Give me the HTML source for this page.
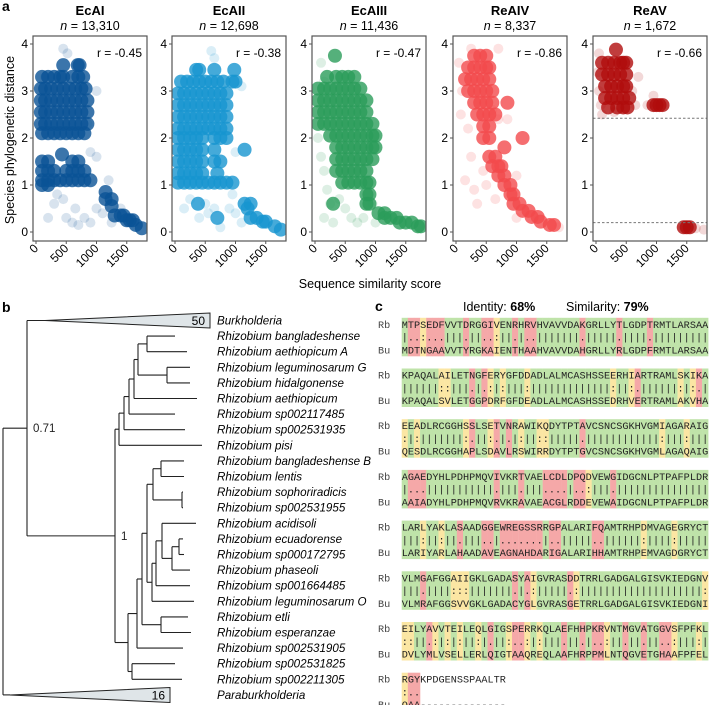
<!DOCTYPE html>
<html><head><meta charset="utf-8"><style>
body{margin:0;background:#fff}
svg{display:block;font-family:"Liberation Sans",sans-serif}
</style></head><body>
<svg id="fig" width="709" height="705" viewBox="0 0 709 705"></svg>
<script>
// ---------- Panel a data (value space: x = similarity score, y = phylo distance) ----------
const panelNames = ["EcAI","EcAII","EcAIII","ReAIV","ReAV"];
const panelN = ["13,310","12,698","11,436","8,337","1,672"];
const panelR = ["-0.45","-0.38","-0.47","-0.86","-0.66"];
const xTicks = [0,500,1000,1500];
const yTicks = [0,1,2,3,4];
const ecaiRows = [[3.55,450,690,720],[3.3,100,200,300,400,450,600,700,780],[3.05,80,150,250,350,450,550,650,750,820],[2.8,80,150,250,350,450,550,650,750,850],[2.55,80,150,250,350,450,550,650,750,850],[2.3,80,150,250,350,450,550,650,750,850],[2.1,100,200,300,400,500,600,700,800],[1.65,430],[1.5,100,200,600,700],[1.3,100,200,300,500,600,700,800],[1.1,100,200,300,400,500,600,700,800,900],[1.0,100,200],[0.85,1150],[0.7,1150,1250],[0.55,1250],[0.35,1300,1400,1450],[0.25,1500,1550,1600],[0.15,1650],[0.08,1750]];
const ecaiScatter = [[450,3.9],[520,3.8],[150,3.3],[1000,3.0],[850,2.3],[900,1.7],[1000,1.6],[1200,1.1],[350,0.8],[300,0.6],[200,0.3],[500,0.3],[650,0.5],[800,0.3],[1000,0.5],[1100,0.4],[450,0.7],[700,0.15],[900,0.2],[1400,0.5],[1250,0.2],[600,0.2]];
const ecaiiRows = [[3.45,350,400,650,980],[3.2,100,200,300,400,500,600,700,800,950,1000],[2.95,50,150,250,350,450,550,650,750,850],[2.7,50,150,250,350,450,550,650,750,850],[2.45,50,150,250,350,450,550,650,750,850],[2.2,50,150,250,350,450,550,650,750,850],[2.0,50,150,250,350,450,650,750,850],[1.75,50,150,250,350,450,650,1150],[1.5,50,150,250,350,450,650,750],[1.25,50,150,250,350,450,700],[1.05,50,150,250,350,450,550,650,750,850,950],[0.6,380,1150,1250],[0.5,1200],[0.3,700,1250,1350],[0.22,1450,1500],[0.12,1650],[0.05,1750]];
const ecaiiScatter = [[600,3.85],[650,3.7],[1100,3.1],[1000,1.7],[950,0.8],[250,0.7],[150,0.5],[500,0.6],[550,0.4],[650,0.5],[900,0.5],[1000,0.4],[1100,0.2],[750,0.1],[400,0.3]];
const ecaiiiRows = [[3.75,330],[3.3,200,350,450,550,650],[3.05,50,150,250,350,450,550,650,750],[2.8,50,150,250,350,450,550,650,750,850],[2.55,50,150,250,350,450,550,650,750,850],[2.3,50,150,250,350,450,550,650,750,850,950],[2.05,250,350,450,550,650,750,850,950,1000],[1.8,350,450,550,650,750,850,950,1000],[1.55,350,450,550,650,750,850,950],[1.3,350,450,550,650,750,850],[1.05,450,550,650,750,850,900],[0.8,850,900],[0.6,300,850,900],[0.4,1050,1150],[0.3,1150,1250,1350],[0.2,1400,1500,1600],[0.12,1700,1750]];
const ecaiiiScatter = [[100,3.6],[150,3.2],[50,2.0],[100,1.6],[150,1.3],[200,0.9],[250,0.6],[150,0.3],[400,0.7],[500,0.5],[700,0.2],[950,0.6],[800,0.3],[1000,0.2],[600,0.3],[300,0.2]];
const reaivRows = [[3.75,300,400,500],[3.5,200,300,400,500,550],[3.25,150,250,350,450,550],[3.0,200,300,400,500,600],[2.75,300,400,500,600,850],[2.5,350,450,550,650],[2.25,450,550],[2.0,450,550,1100],[1.8,800],[1.6,550,650],[1.4,600,700,750],[1.2,700,800],[1.0,800,900],[0.8,900,950],[0.6,950,1050],[0.45,1100,1200],[0.32,1250,1350],[0.22,1400],[0.15,1550,1620]];
const reaivScatter = [[50,3.6],[100,3.0],[80,2.5],[200,2.2],[250,1.6],[150,1.1],[300,0.9],[350,0.6],[450,1.3],[500,1.0],[650,0.7],[1000,0.3],[1700,0.1],[600,2.6],[700,2.4],[850,2.4],[1000,1.2],[250,3.9],[700,3.9]];
const reavRows = [[3.88,330],[3.6,100,200,300,400,450,500],[3.35,100,200,300,400,500],[3.1,150,250,350,450,500],[2.85,150,250,350,450,550],[2.65,200,350,450,520],[2.7,950,1000,1050,1100],[0.1,1450,1500,1550]];
const reavScatter = [[50,3.8],[30,3.4],[50,3.0],[80,2.7],[600,3.0],[650,2.7],[100,2.5],[300,2.55],[850,2.7],[950,2.9],[1650,0.08],[1780,0.05],[700,3.3]];
const reavThresholds = [2.42,0.2];

const allRows=[ecaiRows,ecaiiRows,ecaiiiRows,reaivRows,reavRows];
const allScatter=[ecaiScatter,ecaiiScatter,ecaiiiScatter,reaivScatter,reavScatter];
const colors=["#0a5296","#1795d0","#2a9c5a","#f34a4c","#b00c0c"];
const boxLeft=[33,172,312,453,593];

const NS="http://www.w3.org/2000/svg";
const svg=document.getElementById('fig');
function mk(tag,attrs,parent,text){const e=document.createElementNS(NS,tag);for(const k in attrs)e.setAttribute(k,attrs[k]);if(text!==undefined)e.textContent=text;(parent||svg).appendChild(e);return e;}

const label=mk('text',{x:2,y:11,'font-size':14,'font-weight':'bold'},svg,'a');



const top_=36,bot=241,W=114;
function xs(i,v){return boxLeft[i]+3+v*0.0605;}
function ys(v){return 232-v*47;}

for(let i=0;i<5;i++){
  const g=mk('g',{});
  
  
  const cx=boxLeft[i]+W/2;
  const t=mk('text',{x:cx,y:15,'font-size':13,'font-weight':'bold','text-anchor':'middle'},g,panelNames[i]);
  
  
  const n=mk('text',{x:cx,y:30,'font-size':12.5,'text-anchor':'middle'},g);
  
  
  mk('tspan',{'font-style':'italic'},n,'n');
  mk('tspan',{},n,' = '+panelN[i]);
  const cp=mk('clipPath',{id:'cp'+i},g);
  mk('rect',{x:boxLeft[i],y:top_,width:W,height:bot-top_},cp);
  const pg=mk('g',{'clip-path':'url(#cp'+i+')'},g);
  allScatter[i].forEach(p=>{
    const c=mk('circle',{cx:xs(i,p[0]),cy:ys(p[1]),r:5,fill:colors[i],'fill-opacity':0.16},pg);
    
    
  });
  allRows[i].forEach(row=>{
    for(let k=1;k<row.length;k++){
      const c=mk('circle',{cx:xs(i,row[k]),cy:ys(row[0]),r:7,fill:colors[i],'fill-opacity':0.8},pg);
      
      
    }
  });
  if(i===4){
    reavThresholds.forEach(v=>{
      const l=mk('line',{x1:boxLeft[i],x2:boxLeft[i]+W,y1:ys(v),y2:ys(v),stroke:'#777','stroke-width':1,'stroke-dasharray':'2.5,2'},g);
      
      
    });
  }
  const b=mk('rect',{x:boxLeft[i],y:top_,width:W,height:bot-top_,fill:'none',stroke:'#555','stroke-width':1.2},g);
  
  
  const r=mk('text',{x:boxLeft[i]+W-5,y:57,'font-size':12,'text-anchor':'end'},g,'r = '+panelR[i]);
  
  
  yTicks.forEach(v=>{
    mk('line',{x1:boxLeft[i]-3,x2:boxLeft[i],y1:ys(v),y2:ys(v),stroke:'#555'},g);
    const tl=mk('text',{x:boxLeft[i]-5,y:ys(v)+4,'font-size':12,'text-anchor':'end'},g,String(v));
    
    
  });
  xTicks.forEach(v=>{
    const x=xs(i,v);
    mk('line',{x1:x,x2:x,y1:bot,y2:bot+3,stroke:'#555'},g);
    const tl=mk('text',{x:x+3,y:249,'font-size':12,'text-anchor':'end',transform:'rotate(-45,'+(x+3)+',249)'},g,String(v));
    
    
  });
}
const yt=mk('text',{x:14,y:140,'font-size':12.5,'text-anchor':'middle',transform:'rotate(-90,14,140)'},svg,'Species phylogenetic distance');


const xt=mk('text',{x:370,y:288,'font-size':12.5,'text-anchor':'middle'},svg,'Sequence similarity score');



// ---------- Panel b: tree ----------
const leafNames=["Burkholderia","Rhizobium bangladeshense","Rhizobium aethiopicum A","Rhizobium leguminosarum G","Rhizobium hidalgonense","Rhizobium aethiopicum","Rhizobium sp002117485","Rhizobium sp002531935","Rhizobium pisi","Rhizobium bangladeshense B","Rhizobium lentis","Rhizobium sophoriradicis","Rhizobium sp002531955","Rhizobium acidisoli","Rhizobium ecuadorense","Rhizobium sp000172795","Rhizobium phaseoli","Rhizobium sp001664485","Rhizobium leguminosarum O","Rhizobium etli","Rhizobium esperanzae","Rhizobium sp002531905","Rhizobium sp002531825","Rhizobium sp002211305","Paraburkholderia"];
const leafTipX=[45,175,187,190,190,197,175,185,202,184,184,183,183,196,183,184,190,190,194,188,191,183,175,182,10];
function rowY(i){return 320.5+15.6*i;}
const tree={x:3,c:[{x:27,lab:'0.71',c:[0,{x:115,lab:'1',c:[
  {x:119,c:[{x:124,c:[{x:129,c:[{x:134,c:[{x:138,c:[{x:147,c:[1,2]},{x:167,c:[3,4]}]},5]},6]},7]},8]},
  {x:128,c:[{x:137,c:[{x:142,c:[{x:147,c:[{x:153,c:[{x:161,c:[9,10]},{x:182,c:[11,12]}]},{x:152,c:[{x:156,c:[{x:162,c:[13,{x:172,c:[{x:179,c:[14,15]},16]}]},17]},18]}]},{x:161,c:[19,20]}]},21]},{x:132,c:[22,23]}]}
]}]},24]};
const tg=mk('g',{stroke:'#222','stroke-width':1.1,fill:'none'});


function draw(node){
  const ys_=node.c.map(ch=>{
    if(typeof ch==='number'){
      const y=rowY(ch);
      mk('line',{x1:node.x,x2:leafTipX[ch],y1:y,y2:y},tg);
      return y;
    } else {
      const y=draw(ch);
      mk('line',{x1:node.x,x2:ch.x,y1:y,y2:y},tg);
      return y;
    }
  });
  mk('line',{x1:node.x,x2:node.x,y1:ys_[0],y2:ys_[ys_.length-1]},tg);
  const my=(ys_[0]+ys_[ys_.length-1])/2;
  if(node.lab){const t=mk('text',{x:node.x+6,y:my+4,'font-size':11.5,fill:'#222',stroke:'none'},svg,node.lab);
    }
  return my;
}
draw(tree);
const tri1=mk('polygon',{points:'45,320.5 210,313 210,328',fill:'#dfe5e8',stroke:'#222','stroke-width':1});


mk('text',{x:205,y:325,'font-size':12,'text-anchor':'end'},svg,'50');
const tri2=mk('polygon',{points:'10,695 170,687.5 170,702.5',fill:'#dfe5e8',stroke:'#222','stroke-width':1});


mk('text',{x:165,y:699.5,'font-size':12,'text-anchor':'end'},svg,'16');
leafNames.forEach((nm,i)=>{
  const t=mk('text',{x:217,y:rowY(i)+4,'font-size':11.6,'font-style':'italic'},svg,nm);
  
  
});
const lb=mk('text',{x:2,y:312,'font-size':14,'font-weight':'bold'},svg,'b');



// ---------- Panel c: alignment ----------
const R=n=>'|'.repeat(n);
const seqRb=["MTPSEDFVVTDRGGIVENRHRVHVAVVDAKGRLLYTLGDPTRMTLARSAA","KPAQALAILETNGFERYGFDDADLALMCASHSSEERHIARTRAMLSKIKA","EEADLRCGGHSSLSETVNRAWIKQDYTPTAVCSNCSGKHVGMIAGARAIG","AGAEDYHLPDHPMQVIVKRTVAELCDLDPQDVEWGIDGCNLPTPAFPLDR","LARLYAKLASAADGGEWREGSSRRGPALARIFQAMTRHPDMVAGEGRYCT","VLMGAFGGAIIGKLGADASYAIGVRASDDTRRLGADGALGISVKIEDGNV","EILYAVVTEILEQLGIGSPERRKQLAEFHHPKRVNTMGVATGGVSFPFKL","RGYKPDGENSSPAALTR"];
const seqBu=["MDTNGAAVVTYRGKAIENTHAAHVAVVDAHGRLLYRLGDPFRMTLARSAA","KPAQALSVLETGGPDRFGFDEADLALMCASHSSEDRHVERTRAMLAKVHA","QESDLRCGGHAPLSDAVLRSWIRRDYTPTGVCSNCSGKHVGMLAGAQAIG","AAIADYHLPDHPMQVRVKRAVAEACGLRDDEVEWAIDGCNLPTPAFPLDR","LARIYARLAHAADAVEAGNAHDARIGALARIHHAMTRHPEMVAGDGRYCT","VLMRAFGGSVVGKLGADACYGLGVRASGETRRLGADGALGISVKIEDGNI","DVLYMLVSELLERLQIGTAAQREQLAAFHRPPMLNTQGVETGHAAFPFEL","QAA--------------"];
const matchLines=["|..:...|||.||..:||.|..|||||||.|||||.||||.|||||||||",
 "||||||::|||.|.:|:|||:"+R(13)+":||:.||||||:|:.|",
 ":|:"+R(7)+":.||:.|.|:||::"+R(5)+"."+R(12)+":|||:|||",
 "|..."+R(11)+".|||.|||....|..:|||."+R(15),
 "|||:||:||.|||..|.......|..|||||..||||||:||||:|||||",
 "|||.||||:::"+R(7)+".|.:"+R(5)+".:"+R(20)+":",
 "::||.:|:|:||:|.||:..:|:|||.||.|..:||.||.||..:|||:|",
 ":.."];
const cl=mk('text',{x:375,y:311,'font-size':14,'font-weight':'bold'},svg,'c');


const idt=mk('text',{x:463,y:311,'font-size':12.5},svg);

mk('tspan',{},idt,'Identity: ');mk('tspan',{'font-weight':'bold'},idt,'68%');
const sim=mk('text',{x:566,y:311,'font-size':12.5},svg);

mk('tspan',{},sim,'Similarity: ');mk('tspan',{'font-weight':'bold'},sim,'79%');
const cw=6.13,x0=401.7;
const fillFor={'|':'#bfe3a9',':':'#fbe6a3','.':'#f5a8a8'};
for(let b=0;b<8;b++){
  const g=mk('g',{'font-family':'"Liberation Mono",monospace','font-size':10.2,fill:'#222'});
  
  
  const yR=324.3+b*50.7, yB=yR+25.5, yM=(yR+yB)/2;
  const m=matchLines[b];
  for(let k=0;k<m.length;k++){
    if(fillFor[m[k]]) mk('rect',{x:x0+k*cw,y:yR-6.5,width:cw+0.2,height:yB-yR+13,fill:fillFor[m[k]]},g);
  }
  mk('text',{x:378,y:yR+3.5,fill:'#444'},g,'Rb');
  mk('text',{x:378,y:yB+3.5,fill:'#444'},g,'Bu');
  const put=(s,y)=>{for(let k=0;k<s.length;k++)mk('text',{x:x0+k*cw+cw/2,y:y+3.5,'text-anchor':'middle'},g,s[k]);};
  put(seqRb[b],yR);put(m,yM);put(seqBu[b],yB);
}
</script>
</body></html>
